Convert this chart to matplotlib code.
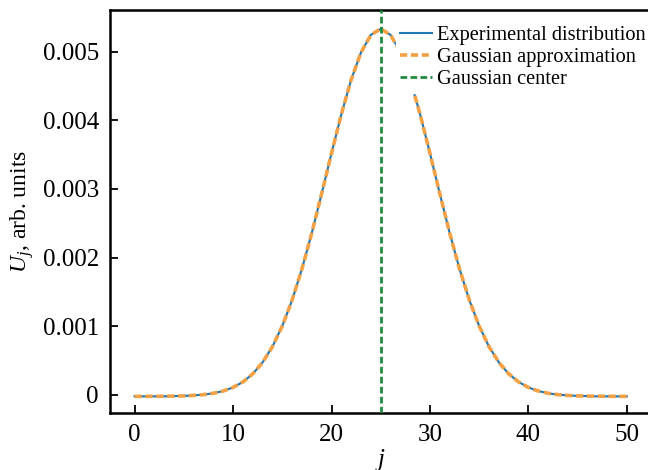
import matplotlib
matplotlib.use("Agg")
import matplotlib.pyplot as plt
from matplotlib.ticker import FuncFormatter, MultipleLocator

# ── Data ──────────────────────────────────────────────────────────────────────
J = list(range(51))

# Gaussian approximation, j = 0..50
GAUSS = [
    -0.0000199, -0.0000196, -0.0000191, -0.0000182, -0.0000163,
    -0.0000128, -0.0000063, 0.0000053, 0.0000250, 0.0000577,
    0.000110, 0.000190, 0.000308, 0.000475, 0.000704,
    0.0010045, 0.001382, 0.001837, 0.002360, 0.002931,
    0.003519, 0.004087, 0.004591, 0.004988, 0.005242,
    0.005330,
    0.005242, 0.004988, 0.004591, 0.004087, 0.003519,
    0.002931, 0.002360, 0.001837, 0.001382, 0.0010045,
    0.000704, 0.000475, 0.000308, 0.000190, 0.000110,
    0.0000577, 0.0000250, 0.0000053, -0.0000063, -0.0000128,
    -0.0000163, -0.0000182, -0.0000191, -0.0000196, -0.0000199,
]

# Experimental distribution, j = 0..50
EXPERIMENT = [
    -0.00002, -0.00002, -0.00002, -0.00002, -0.000016,
    -0.000013, -0.000006, 0.000005, 0.000025, 0.000058,
    0.000110, 0.000190, 0.000308, 0.000475, 0.000704,
    0.001005, 0.001382, 0.001837, 0.002360, 0.002931,
    0.003519, 0.004087, 0.004591, 0.004988, 0.005242,
    0.005330,
    0.005242, 0.004988, 0.004591, 0.004087, 0.003519,
    0.002931, 0.002360, 0.001837, 0.001382, 0.001005,
    0.000704, 0.000475, 0.000308, 0.000190, 0.000110,
    0.000058, 0.000025, 0.000005, -0.000006, -0.000013,
    -0.000016, -0.00002, -0.00002, -0.00002, -0.00002,
]

CENTER = 25.0

BLUE = "#1f77b4"
ORANGE = "#f4a045"
GREEN = "#1e8c3c"

plt.rcParams.update({
    "font.family": "Liberation Serif",
    "mathtext.fontset": "custom",
    "mathtext.rm": "Liberation Serif",
    "mathtext.it": "Liberation Serif:italic",
    "figure.facecolor": "white",
    "axes.facecolor": "white",
})

fig = plt.figure(figsize=(6.48, 4.70), dpi=100)
ax = fig.add_axes([0.1698, 0.1213, 0.8355, 0.8574])

ax.plot(J, EXPERIMENT, color=BLUE, lw=1.5, label="Experimental distribution", zorder=2)
ax.plot(J, GAUSS, color=ORANGE, lw=2.6, dashes=(2.0, 1.0),
        label="Gaussian approximation", zorder=3)
ax.axvline(CENTER, color=GREEN, lw=2.0, dashes=(2.4, 1.2),
           label="Gaussian center", zorder=4)

ax.set_xlim(-2.5, 52.5)
ax.set_ylim(-0.000262, 0.005604)
ax.xaxis.set_major_locator(MultipleLocator(10))
ax.yaxis.set_major_locator(MultipleLocator(0.001))
ax.yaxis.set_major_formatter(FuncFormatter(lambda v, p: f"{v:g}" if abs(v) > 1e-12 else "0"))

for side in ax.spines.values():
    side.set_linewidth(1.8)
ax.spines["right"].set_visible(False)
ax.tick_params(direction="in", length=6, width=1.3, labelsize=18, pad=8,
               top=False, right=False)

ax.set_xlabel("$j$", fontsize=18, labelpad=1)
ax.set_ylabel("$U_j$, arb. units", fontsize=17, labelpad=5)

leg = ax.legend(loc="upper right", bbox_to_anchor=(0.997, 0.972), borderaxespad=0,
                fontsize=14.7, handlelength=1.55, handletextpad=0.25, labelspacing=0.14,
                frameon=True, fancybox=False, borderpad=0.2)
leg.get_frame().set_facecolor("white")
leg.get_frame().set_edgecolor("white")
leg.get_frame().set_alpha(1.0)

fig.savefig("out.png", dpi=100)
